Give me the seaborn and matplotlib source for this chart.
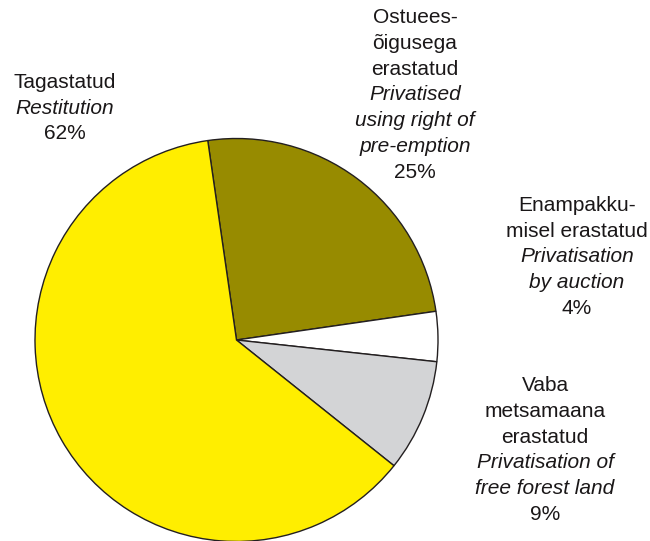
import matplotlib
matplotlib.use("Agg")
import matplotlib.pyplot as plt
import seaborn as sns

# Forest land privatisation by method, share of area (%)
methods_et = ["Ostuees-\nõigusega\nerastatud", "Enampakku-\nmisel erastatud",
              "Vaba\nmetsamaana\nerastatud", "Tagastatud"]
methods_en = ["Privatised\nusing right of\npre-emption", "Privatisation\nby auction",
              "Privatisation of\nfree forest land", "Restitution"]
shares = [25, 4, 9, 62]
slice_colors = ["#978B00", "#FFFFFF", "#D3D4D6", "#FFEE00"]

# label block centres (x, y from top) in figure pixels
label_centres = [(415, 95), (577, 257), (545, 450), (65, 108)]

sns.set_theme(style="white")
plt.rcParams["font.family"] = ["Liberation Sans", "DejaVu Sans"]

W, H = 650, 541
fig = plt.figure(figsize=(W / 100, H / 100), dpi=100)
ax = fig.add_axes([0, 0, 1, 1])

ax.pie(shares, colors=slice_colors, startangle=98.2, counterclock=False,
       center=(236.5, H - 340), radius=201.5,
       wedgeprops=dict(edgecolor="#231F20", linewidth=1.0))

ax.set_xlim(0, W)
ax.set_ylim(0, H)
ax.set_aspect("auto")
ax.axis("off")

text_color = "#1A1718"
line_h = 25.7
for et, en, pct, (cx, cy) in zip(methods_et, methods_en, shares, label_centres):
    lines = [(s, "normal") for s in et.split("\n")]
    lines += [(s, "italic") for s in en.split("\n")]
    lines.append((f"{pct}%", "normal"))
    n = len(lines)
    top = cy - (n - 1) * line_h / 2
    for i, (s, style) in enumerate(lines):
        ax.text(cx, H - (top + i * line_h), s, ha="center", va="center",
                fontsize=15, fontstyle=style, color=text_color)

fig.savefig("out.png", dpi=100)
